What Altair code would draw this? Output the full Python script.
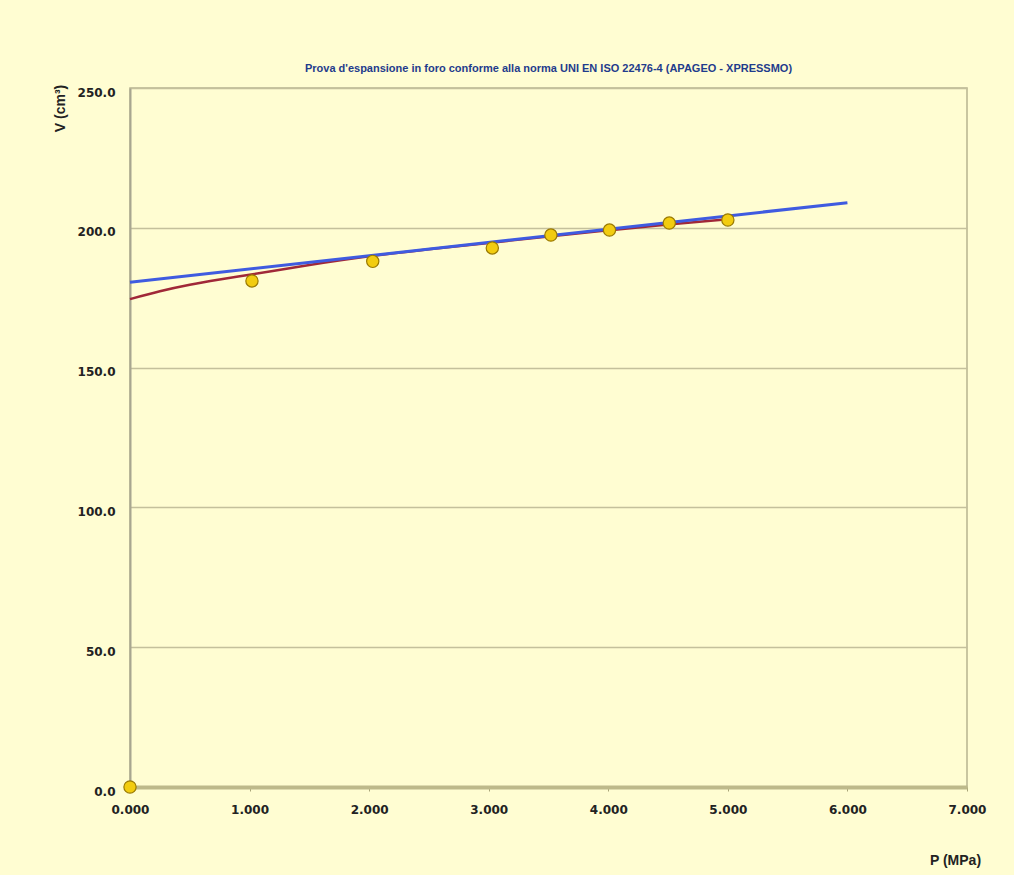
import altair as alt
import pandas as pd

# Measured points of the pressuremeter test
p_meas = [0.0, 1.02, 2.03, 3.03, 3.52, 4.01, 4.51, 5.00]
v_meas = [0.0, 181.0, 188.0, 192.8, 197.4, 199.2, 201.7, 202.8]

# Corrected curve (red)
p_curve = [0.0, 0.25, 0.5, 0.75, 1.0, 1.5, 2.0, 2.5, 3.0, 3.5, 4.0, 4.5, 5.0]
v_curve = [174.5, 177.3, 179.6, 181.5, 183.2, 186.7, 189.8, 192.3, 194.6, 196.9, 199.1, 201.2, 203.1]

# Linear fit (blue)
p_fit = [0.0, 6.0]
v_fit = [180.5, 209.0]

x_ticks = [0, 1, 2, 3, 4, 5, 6, 7]
y_ticks = [0, 50, 100, 150, 200, 250]

meas = pd.DataFrame({"P": p_meas, "V": v_meas})
curve = pd.DataFrame({"P": p_curve, "V": v_curve})
fit = pd.DataFrame({"P": p_fit, "V": v_fit})

grid_col = "#C4C09C"
lab_font = "Liberation Sans"
tick_font = "DejaVu Sans"

x_enc = alt.X(
    "P:Q",
    scale=alt.Scale(domain=[0, 7], nice=False, zero=False),
    axis=alt.Axis(
        values=x_ticks, format=".3f", grid=False, title="P (MPa)",
        titleX=825, titleY=80, titleAlign="center", titleBaseline="bottom",
        titleFont=lab_font, titleFontSize=14, titleFontWeight="bold", titleColor="#222222",
        labelFont=tick_font, labelFontSize=12, labelFontWeight="bold", labelColor="#222222",
        labelPadding=13, labelFlush=False, tickSize=4, tickColor="#A8A478",
        domainColor="#BDB98A", domainWidth=4,
    ),
)
y_enc = alt.Y(
    "V:Q",
    scale=alt.Scale(domain=[0, 250], nice=False),
    axis=alt.Axis(
        values=y_ticks, format=".1f", grid=True, gridColor=grid_col, gridWidth=1.5,
        title="V (cm³)", titleX=-70, titleY=20, titleAngle=-90,
        titleAlign="center", titleBaseline="middle",
        titleFont=lab_font, titleFontSize=14, titleFontWeight="bold", titleColor="#222222",
        labelFont=tick_font, labelFontSize=12, labelFontWeight="bold", labelColor="#222222",
        labelPadding=15, labelOffset=4, labelFlush=False, ticks=False,
        domainColor="#A8A690", domainWidth=2,
    ),
)

red = alt.Chart(curve).mark_line(color="#A02838", strokeWidth=2.5, interpolate="monotone").encode(
    x=x_enc, y=y_enc
)
blue = alt.Chart(fit).mark_line(color="#3F5BE0", strokeWidth=3).encode(x="P:Q", y="V:Q")
pts = alt.Chart(meas).mark_point(
    shape="circle", filled=True, size=150, color="#F2CC10", stroke="#9A7A00", strokeWidth=1.2, opacity=1
).encode(x="P:Q", y="V:Q")

chart = (
    alt.layer(red, blue, pts)
    .properties(
        width=837,
        height=699,
        autosize=alt.AutoSizeParams(type="none"),
        padding={"left": 130, "top": 88, "right": 47, "bottom": 88},
        background="#FFFDD2",
        title=alt.TitleParams(
            "Prova d'espansione in foro conforme alla norma UNI EN ISO 22476-4 (APAGEO - XPRESSMO)",
            font=lab_font, fontSize=11, fontWeight="bold", color="#1F3C8C",
            anchor="middle", offset=10,
        ),
    )
    .configure_view(stroke="#B8B490", strokeWidth=1.5)
)

chart.save("out.html", embed_options={"renderer": "svg", "actions": False})
